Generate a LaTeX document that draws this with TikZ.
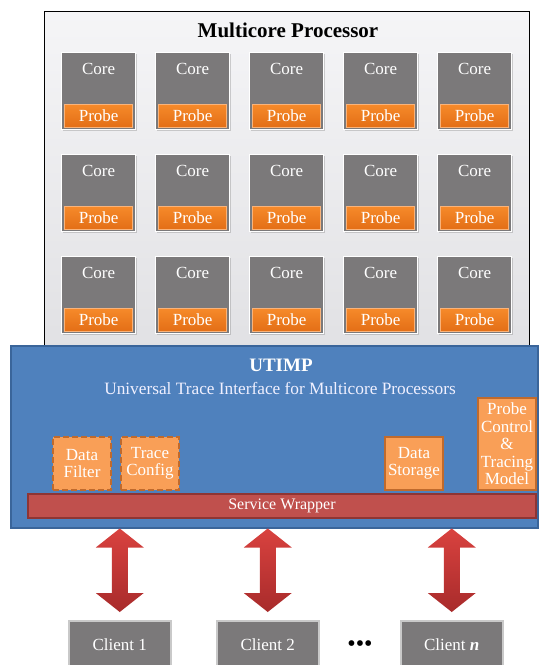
\documentclass[tikz,border=0pt]{standalone}
\usepackage{fontspec}
\setmainfont{Liberation Serif}
\usetikzlibrary{calc,shadows}
\definecolor{mptop}{HTML}{F5F5F7}
\definecolor{mpbot}{HTML}{E1E1E4}
\definecolor{coregray}{HTML}{7B797A}
\definecolor{probetop}{HTML}{F68A2A}
\definecolor{probebot}{HTML}{E36E16}
\definecolor{probeedge}{HTML}{F9B37A}
\definecolor{utblue}{HTML}{4F81BD}
\definecolor{utedge}{HTML}{3A659A}
\definecolor{obox}{HTML}{F99F57}
\definecolor{oedge}{HTML}{C06A2C}
\definecolor{swred}{HTML}{C0504D}
\definecolor{swedge}{HTML}{8E3534}
\definecolor{arrtop}{HTML}{D9423F}
\definecolor{arrbot}{HTML}{A82B2B}
\definecolor{clientedge}{HTML}{C9C9C9}
\newcommand\bigarrow[2]{%
  \shade[top color=arrtop,bottom color=arrbot,draw=none]
    ($(#1)+(-8,19)$) -- ($(#1)+(-24,19)$) -- (#1) -- ($(#1)+(24,19)$) -- ($(#1)+(8,19)$)
    -- ($(#2)+(8,-19)$) -- ($(#2)+(24,-19)$) -- (#2) -- ($(#2)+(-24,-19)$) -- ($(#2)+(-8,-19)$) -- cycle;}
\begin{document}
\begin{tikzpicture}[x=1pt,y=-1pt,
  mpbox/.style={draw=black,line width=0.8pt,top color=mptop,bottom color=mpbot,minimum width=485pt,minimum height=340pt,anchor=north west,inner sep=0pt},
  corebox/.style={fill=coregray,draw=white,line width=1.3pt,minimum width=74pt,minimum height=77pt,anchor=north west,inner sep=0pt,drop shadow={shadow xshift=1.5pt,shadow yshift=-1.5pt,opacity=0.35}},
  coretext/.style={text=white,font=\fontsize{17}{19}\selectfont,inner sep=0pt},
  probebox/.style={top color=probetop,bottom color=probebot,draw=probeedge,line width=0.8pt,minimum width=68pt,minimum height=23pt,anchor=south,inner sep=0pt,text=white,font=\fontsize{17}{19}\selectfont},
  utbox/.style={fill=utblue,draw=utedge,line width=1.5pt,minimum width=527pt,minimum height=182pt,anchor=north west,inner sep=0pt},
  obox/.style={fill=obox,draw=oedge,line width=2pt,inner sep=0pt,anchor=north west,align=center,text=white,font=\fontsize{17}{17.5}\selectfont},
  swbox/.style={fill=swred,draw=swedge,line width=2pt,minimum width=508pt,minimum height=24pt,anchor=north west,inner sep=0pt,text=white,font=\fontsize{16}{18}\selectfont},
  clientbox/.style={fill=coregray,draw=clientedge,line width=1.5pt,minimum width=102pt,minimum height=48pt,anchor=north west,inner sep=0pt,text=white,font=\fontsize{17}{19}\selectfont}]
\useasboundingbox (0,0) rectangle (539,665);
\clip (0,0) rectangle (539,665);
\node[mpbox] (mp) at (44,11) {};
\node[font=\fontsize{21}{24}\selectfont\bfseries] (mptitle) at (288,30) {Multicore Processor};
\foreach \r in {0,1,2}{
  \foreach \c in {0,1,2,3,4}{
    \node[corebox] (core-\r-\c) at ({61+94*\c},{52+102*\r}) {};
    \node[coretext] (coretxt-\r-\c) at ($(core-\r-\c.north)+(0,17)$) {Core};
    \node[probebox] (probe-\r-\c) at ($(core-\r-\c.south)+(0,-2.5)$) {Probe};
  }
}
\node[utbox] (ut) at (10,345) {};
\node[text=white,font=\fontsize{19}{22}\selectfont\bfseries] (uttitle) at (281,365) {UTIMP};
\node[text=white!94!blue,font=\fontsize{17.3}{19}\selectfont] (utsub) at (280,388) {Universal Trace Interface for Multicore Processors};
\node[obox,dashed,dash pattern=on 6pt off 3pt,minimum width=58pt,minimum height=53pt] (df) at (52,436) {Data\\Filter};
\node[obox,dashed,dash pattern=on 6pt off 3pt,minimum width=58pt,minimum height=53pt] (tc) at (120,436) {Trace\\Config};
\node[obox,minimum width=58pt,minimum height=53pt] (ds) at (384,436) {Data\\Storage};
\node[obox,minimum width=58pt,minimum height=92pt] (pc) at (477,397) {Probe\\Control\\\&\\Tracing\\Model};
\node[swbox] (sw) at (27,493) {Service Wrapper};
\node[clientbox] (cl1) at (68,620) {Client 1};
\node[clientbox] (cl2) at (216,620) {Client 2};
\node[clientbox] (cln) at (400,620) {Client \textbf{\textit{n}}};
\node[font=\fontsize{24}{26}\selectfont] (dots) at (360,646) {•••};
\coordinate (a1t) at (cl1.north |- ut.south);
\coordinate (a1b) at ($(cl1.north)+(0,-8)$);
\coordinate (a2t) at (cl2.north |- ut.south);
\coordinate (a2b) at ($(cl2.north)+(0,-8)$);
\coordinate (a3t) at (cln.north |- ut.south);
\coordinate (a3b) at ($(cln.north)+(0,-8)$);
\bigarrow{a1t}{a1b}
\bigarrow{a2t}{a2b}
\bigarrow{a3t}{a3b}
\end{tikzpicture}
\end{document}
